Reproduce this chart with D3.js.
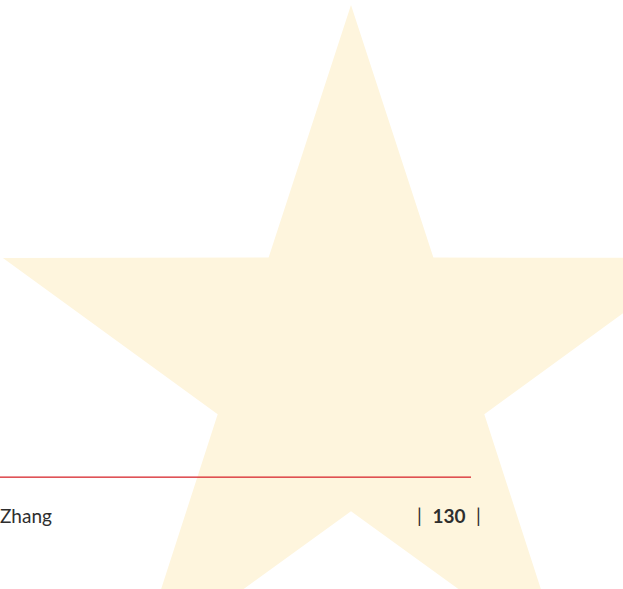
<!DOCTYPE html>
<html>
<head>
    <meta charset="utf-8">
    <style>
        body { margin: 0; background: #fff; }
        svg { display: block; }
        .footer-text {
            font-family: Lato, 'Open Sans', sans-serif;
            font-size: 19px;
            fill: #2e2e2e;
        }
        .page-num { font-weight: 700; }
    </style>
</head>
<body>
    <svg width="623" height="589"></svg>

<script src="https://cdnjs.cloudflare.com/ajax/libs/d3/7.8.5/d3.min.js"></script>
<script>
    // star outline: angle (deg, clockwise from top) and radius (relative units)
    let starAngles = [0, 36, 72, 108, 144, 180, 216, 252, 288, 324]
    let starRadii = [1, 0.383, 1, 0.383, 1, 0.383, 1, 0.383, 1, 0.383]

    let footerAuthor = ["Zhang"]
    let pageNumber = ["130"]

    let width = 623
    let height = 589

    let svg = d3.select("svg")

    let r = d3.scaleLinear().domain([0, 1]).range([0, 366])

    let starLine = d3.lineRadial()
        .angle(d => d.a * Math.PI / 180)
        .radius(d => r(d.r))
        .curve(d3.curveLinearClosed)

    let starData = starAngles.map((a, i) => ({ a: a, r: starRadii[i] }))

    svg.append("g")
        .attr("transform", "translate(351,371)")
        .append("path")
        .datum(starData)
        .attr("fill", "#fef5dd")
        .attr("d", starLine)

    // red rule above the footer
    svg.append("rect")
        .attr("x", 0)
        .attr("y", 476.5)
        .attr("width", 471)
        .attr("height", 1.3)
        .attr("fill", "#d7282f")

    svg.append("text")
        .attr("class", "footer-text")
        .attr("x", 0)
        .attr("y", 523)
        .text(footerAuthor[0])

    // page number: | 130 |
    let pn = svg.append("g").attr("class", "footer-text")
    pn.append("text").attr("x", 417).attr("y", 523).text("|")
    pn.append("text").attr("class", "page-num").attr("x", 449).attr("y", 523)
        .attr("text-anchor", "middle").text(pageNumber[0])
    pn.append("text").attr("x", 476).attr("y", 523).text("|")
</script>
</body>
</html>
